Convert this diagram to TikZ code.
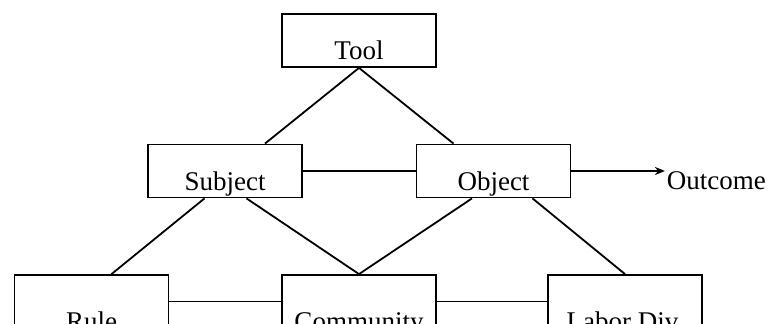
\documentclass[tikz,border=0pt]{standalone}
\usepackage{fontspec}
\setmainfont{Liberation Serif}
\usepackage{tikz}
\usetikzlibrary{arrows.meta}

\begin{document}
\begin{tikzpicture}[x=1pt,y=1pt,line width=1.8pt,
    box/.style={draw,inner sep=0pt,minimum width=154pt,minimum height=53pt,
      text height=39pt,text depth=0pt,font=\fontsize{27}{30}\selectfont},
    lowbox/.style={box,text height=56pt}]

  \clip (0,0) rectangle (769,324);

  \node[box] (tool) at (359,283.5) {Tool};
  \node[box] (subj) at (225,153) {Subject};
  \node[box] (obj) at (493.5,153) {Object};

  \node[lowbox] (rule) at (91.5,21) {Rule};
  \node[lowbox] (comm) at (359,21) {Community};
  \node[lowbox] (labor) at (625,21) {Labor Div.};

  \node[anchor=base west,inner sep=1pt,font=\fontsize{27}{30}\selectfont]
    (outc) at (665,134) {Outcome};

  \draw (tool.south) -- ([xshift=40pt]subj.north);
  \draw (tool.south) -- ([xshift=-40pt]obj.north);
  \draw (subj) -- (obj);
  \draw[-{Stealth[length=10pt,width=8pt,inset=3pt]}] (obj) -- (obj -| outc.west);

  \draw ([xshift=-20.5pt]subj.south) -- ([xshift=20pt]rule.north);
  \draw ([xshift=21.5pt]subj.south) -- (comm.north);
  \draw ([xshift=-21.5pt]obj.south) -- (comm.north);
  \draw ([xshift=39pt]obj.south) -- (labor.north);

  \draw ([yshift=1.5pt]rule.east) -- ([yshift=1.5pt]comm.west);
  \draw ([yshift=1.5pt]comm.east) -- ([yshift=1.5pt]labor.west);
\end{tikzpicture}
\end{document}
